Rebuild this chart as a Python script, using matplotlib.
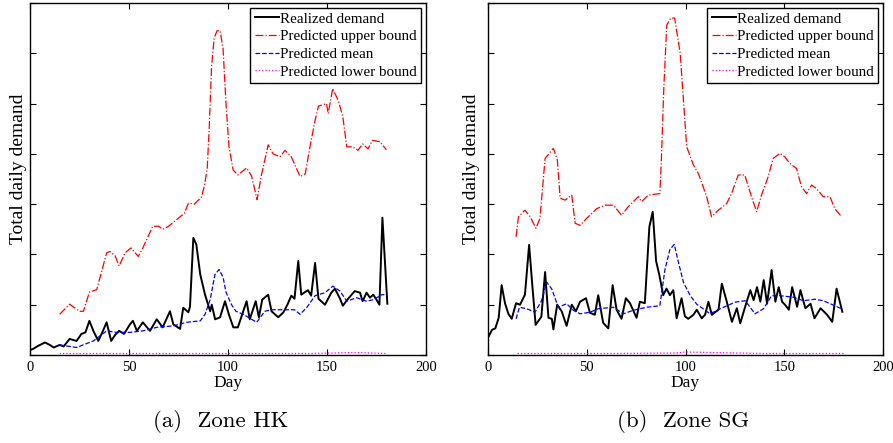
import matplotlib
matplotlib.use("Agg")
import matplotlib.pyplot as plt

plt.rcParams['font.family'] = ['Liberation Serif', 'DejaVu Serif']

# Zone HK
hk_real_day = [0, 1.5, 4, 7.6, 10, 12, 15, 17, 20, 23.5, 26, 28, 30, 32, 34.5, 36.5, 38.7, 41, 43, 45,
               47.5, 50.5, 52, 54, 57, 60.6, 64, 67, 70.7, 72.4, 75.8, 77.4, 80, 80.8, 82.5, 84, 86, 88.4,
               91, 91.8, 93.5, 96, 98.5, 100.5, 102.7, 105, 107.7, 109.4, 111, 114, 115.6, 117.3, 120.3,
               122, 125.4, 128, 130, 132, 133.6, 135.5, 137, 140.4, 142, 144, 145.7, 149, 152.2, 154,
               156.6, 158, 160.7, 164, 166.7, 168, 170, 171.7, 173.4, 175, 176.5, 178, 180.5]
hk_real_val = [0.1, 0.12, 0.18, 0.25, 0.2, 0.15, 0.2, 0.17, 0.32, 0.28, 0.42, 0.45, 0.68, 0.48, 0.28, 0.45,
               0.65, 0.28, 0.4, 0.48, 0.42, 0.61, 0.68, 0.48, 0.65, 0.48, 0.71, 0.55, 0.87, 0.61, 0.52,
               0.94, 0.85, 0.96, 2.33, 2.2, 1.6, 1.2, 0.87, 1.0, 0.71, 0.75, 1.07, 0.8, 0.55, 0.55, 0.87,
               1.07, 0.71, 1.07, 0.75, 1.1, 1.2, 0.87, 0.75, 0.85, 1.0, 1.18, 1.12, 1.87, 1.2, 1.29, 1.18,
               1.83, 1.12, 1.0, 1.24, 1.32, 1.12, 0.98, 1.12, 1.27, 1.24, 1.07, 1.24, 1.14, 1.2, 1.1, 1.0,
               2.73, 1.02]
hk_up_day = [15, 20, 25, 27, 30, 33.7, 38.7, 40.4, 43, 45, 48, 51, 54.7, 57, 62, 65, 67, 70, 74, 78, 80,
             83, 86.6, 88, 89.5, 90.5, 91.7, 93, 94.5, 96, 97.5, 99, 100.5, 102.6, 105, 109.4, 111.9,
             114.7, 116.8, 120.3, 122.8, 126.3, 128.8, 132, 136.4, 139, 141.4, 144, 145.7, 149.8, 150.6,
             152.9, 155.8, 158, 160, 163, 165.7, 168, 170.7, 173, 176.8, 180]
hk_up_val = [0.81, 1.01, 0.87, 0.87, 1.25, 1.3, 2.03, 2.06, 1.97, 1.77, 2.03, 2.13, 1.96, 2.13, 2.56, 2.56,
             2.5, 2.56, 2.69, 2.82, 3.02, 3.0, 3.14, 3.35, 3.7, 4.5, 5.73, 6.3, 6.45, 6.45, 6.1, 5.0,
             4.14, 3.68, 3.58, 3.72, 3.56, 3.09, 3.56, 4.18, 4.0, 3.94, 4.07, 3.94, 3.55, 3.6, 4.14,
             4.67, 4.95, 5.0, 4.8, 5.3, 5.05, 4.74, 4.14, 4.14, 4.07, 4.2, 4.1, 4.27, 4.24, 4.08]
hk_mean_day = [15, 23.5, 32, 38.7, 43.8, 50.5, 57, 64, 72.4, 79, 86, 88.4, 91, 93.4, 95.5, 97.5, 99,
               101.8, 104, 107.7, 114.5, 118.6, 122, 128.8, 133.6, 136.4, 139.7, 144, 149, 153, 156.6,
               160, 165, 170, 173.4, 177.7, 179]
hk_mean_val = [0.2, 0.15, 0.28, 0.48, 0.45, 0.45, 0.48, 0.55, 0.58, 0.65, 0.68, 0.81, 1.1, 1.6, 1.7,
               1.55, 1.25, 1.0, 0.87, 0.81, 0.65, 0.87, 0.9, 0.9, 0.9, 0.81, 0.94, 1.18, 1.24, 1.37, 1.27,
               1.07, 1.14, 1.07, 1.1, 1.2, 1.2]
hk_low_day = [15, 60, 100, 140, 165, 180]
hk_low_val = [0.03, 0.03, 0.03, 0.03, 0.05, 0.03]

# Zone SG
sg_real_day = [0.2, 2, 3.7, 5.4, 6.9, 8.6, 10.3, 12, 14.2, 16.2, 18.7, 20.8, 22.5, 24.1, 27, 28.9, 30.6,
               32.3, 33.1, 35, 37.3, 39.8, 42.4, 44.5, 46.6, 49.6, 51.6, 54.1, 55.8, 58.3, 60.9, 63.1,
               65.1, 67.6, 69.8, 71.9, 75.2, 76.9, 79.4, 81.7, 83.4, 85.1, 86.7, 88.7, 90.4, 92.1, 93.8,
               95.5, 98, 99.7, 101.4, 104, 105.7, 108.2, 109.9, 111.6, 113.3, 116.7, 118.4, 120.9, 123.5,
               126, 127.7, 130.2, 132.8, 134.5, 136.2, 137.9, 139.6, 141.3, 143.6, 145.5, 147.2, 148.9,
               150.6, 152.3, 154, 156.5, 158.2, 160.7, 163.3, 165.3, 168.4, 171.7, 174.3, 176.5, 179.4]
sg_real_val = [0.36, 0.5, 0.53, 0.74, 1.39, 1.03, 0.82, 0.72, 1.03, 1.0, 1.2, 2.19, 1.35, 0.6, 0.76, 1.65,
               0.74, 0.72, 0.51, 1.0, 0.87, 0.58, 1.0, 0.87, 1.06, 1.13, 0.84, 0.8, 1.19, 0.64, 0.53, 1.39,
               0.9, 0.72, 1.13, 1.03, 0.74, 1.06, 1.03, 2.55, 2.85, 1.87, 1.6, 1.19, 1.32, 1.19, 1.29,
               0.73, 1.13, 0.77, 0.72, 0.8, 0.9, 0.73, 0.8, 1.06, 0.8, 0.9, 1.42, 1.06, 0.66, 0.93, 0.63,
               0.96, 1.29, 1.09, 1.35, 1.06, 1.49, 1.02, 1.69, 1.06, 1.35, 1.06, 0.99, 0.9, 1.35, 0.96,
               1.29, 0.93, 1.02, 0.73, 0.93, 0.8, 0.66, 1.32, 0.86]
sg_up_day = [14.2, 15.4, 18.7, 21.3, 24.3, 26.3, 28.9, 33.1, 35.1, 36.5, 39, 42.4, 44.1, 46.6, 50, 55,
             59.3, 63.5, 67.6, 71, 76.1, 77.8, 81.1, 87, 87.8, 89, 90.5, 92.5, 94.5, 97.3, 100.6, 104,
             106.5, 110.7, 113.2, 116.6, 120.8, 123.3, 126.7, 130, 133.4, 136, 138.5, 141.8, 144.4,
             147.8, 150.3, 152.8, 156.2, 158.7, 161.3, 163.8, 166.3, 169.7, 173.1, 175.6, 179]
sg_up_val = [2.35, 2.75, 2.88, 2.75, 2.52, 2.72, 3.91, 4.11, 3.88, 3.12, 3.08, 3.18, 2.62, 2.58, 2.72,
             2.91, 2.98, 2.98, 2.78, 2.95, 3.15, 3.05, 3.18, 3.21, 3.91, 5.3, 6.56, 6.7, 6.7, 6.0, 4.14,
             3.78, 3.61, 3.15, 2.75, 2.88, 3.01, 3.21, 3.58, 3.58, 3.15, 2.85, 3.18, 3.54, 3.91, 4.01,
             3.94, 3.81, 3.71, 3.35, 3.21, 3.38, 3.31, 3.15, 3.15, 2.91, 2.75]
sg_mean_day = [14.2, 15.9, 19.6, 23.8, 27.1, 29.7, 32.3, 35.6, 39.8, 43.2, 46.6, 51.6, 55.8, 63.5, 68.5,
               73.6, 80.3, 87, 89.6, 92.1, 94.3, 96.5, 99, 102.4, 105.7, 112.4, 117.5, 125.1, 130.2,
               135.2, 139.5, 143.6, 147.8, 154.6, 159.7, 165.5, 169.7, 173.9, 179]
sg_mean_val = [0.72, 0.95, 0.92, 0.85, 1.08, 1.45, 1.31, 0.95, 1.02, 0.89, 0.82, 0.85, 0.92, 0.95, 0.82,
               0.89, 0.95, 0.98, 1.7, 2.1, 2.2, 1.83, 1.44, 1.18, 1.01, 0.82, 0.92, 1.05, 1.08, 0.82,
               0.92, 1.18, 1.18, 1.15, 1.08, 1.11, 1.08, 1.01, 0.92]
sg_low_day = [15, 60, 95, 100, 140, 180]
sg_low_val = [0.03, 0.03, 0.04, 0.06, 0.03, 0.03]

xticks = [0, 50, 100, 150, 200]
captions = ["(a)  Zone HK", "(b)  Zone SG"]

fig = plt.figure(figsize=(8.93, 4.43), dpi=100)
ax1 = fig.add_axes([0.0336, 0.1986, 0.4434, 0.7946])
ax2 = fig.add_axes([0.5465, 0.1986, 0.4423, 0.7946])

panels = [
    (ax1, hk_real_day, hk_real_val, hk_up_day, hk_up_val, hk_mean_day, hk_mean_val, hk_low_day, hk_low_val),
    (ax2, sg_real_day, sg_real_val, sg_up_day, sg_up_val, sg_mean_day, sg_mean_val, sg_low_day, sg_low_val),
]

for i, (ax, rd, rv, ud, uv, md, mv, ld, lv) in enumerate(panels):
    ax.plot(rd, rv, color='black', lw=1.4, label='Realized demand')
    ax.plot(ud, uv, color='red', lw=0.9, ls='-.', label='Predicted upper bound')
    ax.plot(md, mv, color='blue', lw=0.9, ls='--', label='Predicted mean')
    ax.plot(ld, lv, color='magenta', lw=0.9, ls=':', label='Predicted lower bound')
    ax.set_xlim(0, 200)
    ax.set_ylim(0, 7)
    ax.set_xticks(xticks)
    ax.set_yticks(range(0, 8))
    ax.set_yticklabels([])
    ax.tick_params(direction='in', top=True, right=True, length=4, width=0.8, labelsize=10.5, pad=4)
    for s in ax.spines.values():
        s.set_linewidth(1.0)
    ax.set_xlabel('Day', fontsize=12.5, labelpad=1)
    ax.set_ylabel('Total daily demand', fontsize=14)
    ax.yaxis.set_label_coords(-0.007 - 0.014 * i, 0.53)
    leg = ax.legend(loc='upper right', fontsize=10.8, fancybox=False, edgecolor='black',
                    framealpha=1, borderpad=0.3, labelspacing=0.28, handlelength=1.6,
                    handletextpad=0.1, borderaxespad=0.3)
    leg.get_frame().set_linewidth(1.0)
    fig.text(0.2475 + i * 0.518, 0.022, captions[i], ha='center', va='bottom',
             fontsize=16.5, family=['cmr10', 'DejaVu Serif'])

fig.savefig('out.png', dpi=100)
